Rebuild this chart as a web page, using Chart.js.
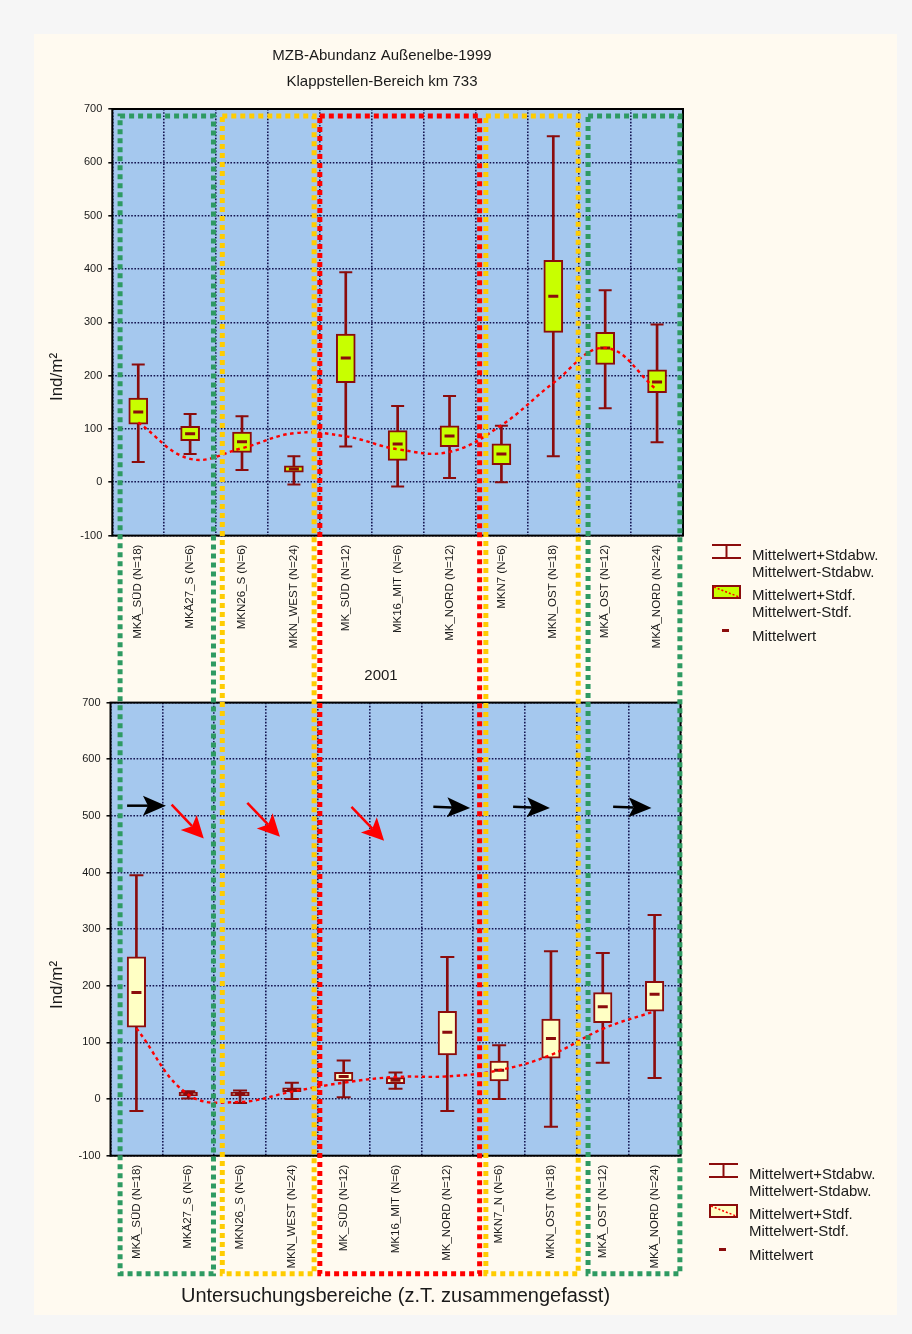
<!DOCTYPE html>
<html>
<head>
<meta charset="utf-8">
<title>MZB-Abundanz Außenelbe</title>
<script src="https://cdn.jsdelivr.net/npm/chart.js@4.4.1/dist/chart.umd.min.js"></script>
<style>
  html, body { margin: 0; padding: 0; background: #f6f6f6; }
  #page { position: relative; width: 912px; height: 1334px; overflow: hidden; }
  #panel { position: absolute; left: 34px; top: 34px; width: 863px; height: 1281px; background: #fffaf0; }
  #c1 { position: absolute; left: 0; top: 0; }
  #c2 { position: absolute; left: 0; top: 690px; }
  #ov { position: absolute; left: 0; top: 0; pointer-events: none; }
</style>
</head>
<body>
<div id="page">
  <div id="panel"></div>
  <canvas id="c1" width="912" height="690"></canvas>
  <canvas id="c2" width="912" height="644"></canvas>
  <canvas id="ov" width="912" height="1334"></canvas>
</div>
<script>
// ---- data -------------------------------------------------------------
const stations1999 = ['MKÄ_SÜD (N=18)', 'MKÄ27_S (N=6)', 'MKN26_S (N=6)', 'MKN_WEST (N=24)', 'MK_SÜD (N=12)',
  'MK16_MIT (N=6)', 'MK_NORD (N=12)', 'MKN7 (N=6)', 'MKN_OST (N=18)', 'MKÄ_OST (N=12)', 'MKÄ_NORD (N=24)'];
const stations2001 = ['MKÄ_SÜD (N=18)', 'MKÄ27_S (N=6)', 'MKN26_S (N=6)', 'MKN_WEST (N=24)', 'MK_SÜD (N=12)',
  'MK16_MIT (N=6)', 'MK_NORD (N=12)', 'MKN7_N (N=6)', 'MKN_OST (N=18)', 'MKÄ_OST (N=12)', 'MKÄ_NORD (N=24)'];

// 1999: mean, mean ± standard deviation, mean ± standard error, smoothed trend of the means
const mean1999   = [132, 91, 76, 25, 233, 72, 87, 53, 349, 252, 188];
const sdHigh1999 = [221, 128, 124, 49, 394, 143, 162, 106, 649, 360, 296];
const sdLow1999  = [38, 53, 23, -4, 67, -8, 8, 0, 49, 139, 75];
const seHigh1999 = [158, 105, 94, 31, 278, 97, 106, 72, 416, 281, 211];
const seLow1999  = [109, 78, 56, 19, 187, 41, 67, 33, 281, 221, 168];
const trend1999  = [112, 44, 64, 92, 86, 62, 57, 107, 186, 252, 173];

// 2001
const mean2001   = [188, 9, 9, 16, 40, 33, 118, 51, 107, 163, 185];
const sdHigh2001 = [395, 14, 15, 29, 68, 47, 251, 95, 261, 258, 325];
const sdLow2001  = [-21, 1, -7, 0, 3, 18, -21, 0, -49, 64, 37];
const seHigh2001 = [251, 12, 12, 20, 47, 38, 155, 67, 141, 188, 208];
const seLow2001  = [127, 6, 6, 13, 32, 27, 78, 32, 72, 135, 155];
const trend2001  = [125, 8, -5, 13, 29, 39, 40, 51, 78, 124, 155];

const valueTicks = [-100, 0, 100, 200, 300, 400, 500, 600, 700];

// groups of neighbouring stations (category index span)
const stationGroups = [
  { from: -0.35, to: 1.45, color: '#2e9a62' },
  { from: 1.62, to: 3.39, color: '#ffcc00' },
  { from: 3.50, to: 6.58, color: '#ff0000' },
  { from: 6.70, to: 8.48, color: '#ffcc00' },
  { from: 8.67, to: 10.44, color: '#2e9a62' }
];

// trend arrows of 2001 (category index, value)
const arrows2001 = [
  { x0: -0.18, y0: 518, x1: 0.57, y1: 518, color: '#000000' },
  { x0: 0.68, y0: 520, x1: 1.30, y1: 460, color: '#ff0000' },
  { x0: 2.14, y0: 523, x1: 2.77, y1: 463, color: '#ff0000' },
  { x0: 4.15, y0: 516, x1: 4.78, y1: 456, color: '#ff0000' },
  { x0: 5.73, y0: 516, x1: 6.44, y1: 514, color: '#000000' },
  { x0: 7.27, y0: 516, x1: 7.98, y1: 514, color: '#000000' },
  { x0: 9.20, y0: 516, x1: 9.94, y1: 514, color: '#000000' }
];

// ---- styling ----------------------------------------------------------
const FONT = '"Liberation Sans", Arial, Helvetica, sans-serif';
const DARK_RED = '#8b0c0c';
const PLOT_BG = '#a5c8ee';
const GRID = '#141450';
const TEXT = '#1a1a1a';

function drawKey(ctx, x, y, fill) {
  ctx.save();
  ctx.strokeStyle = DARK_RED;
  ctx.lineWidth = 2;
  // whisker symbol
  ctx.beginPath();
  ctx.moveTo(x, y); ctx.lineTo(x + 29, y);
  ctx.moveTo(x, y + 13); ctx.lineTo(x + 29, y + 13);
  ctx.moveTo(x + 14.5, y); ctx.lineTo(x + 14.5, y + 13);
  ctx.stroke();
  // box symbol
  ctx.fillStyle = fill;
  ctx.fillRect(x, y + 40, 29, 14);
  ctx.strokeRect(x + 1, y + 41, 27, 12);
  ctx.strokeStyle = '#ff0000';
  ctx.lineWidth = 1.5;
  ctx.setLineDash([2, 2]);
  ctx.beginPath(); ctx.moveTo(x + 2, y + 42); ctx.lineTo(x + 27, y + 52); ctx.stroke();
  ctx.setLineDash([]);
  // mean symbol
  ctx.strokeStyle = DARK_RED;
  ctx.lineWidth = 3;
  ctx.beginPath(); ctx.moveTo(x + 10, y + 85.5); ctx.lineTo(x + 17, y + 85.5); ctx.stroke();
  // texts
  ctx.fillStyle = TEXT;
  ctx.font = '15px ' + FONT;
  ctx.textAlign = 'left';
  ctx.textBaseline = 'middle';
  const tx = x + 40;
  ctx.fillText('Mittelwert+Stdabw.', tx, y + 10.5);
  ctx.fillText('Mittelwert-Stdabw.', tx, y + 27.5);
  ctx.fillText('Mittelwert+Stdf.', tx, y + 51);
  ctx.fillText('Mittelwert-Stdf.', tx, y + 67.5);
  ctx.fillText('Mittelwert', tx, y + 92);
  ctx.restore();
}

function drawArrow(ctx, x0, y0, x1, y1, color) {
  const ang = Math.atan2(y1 - y0, x1 - x0);
  const ux = Math.cos(ang), uy = Math.sin(ang);
  const L = color === '#000000' ? 23 : 22;
  const W = color === '#000000' ? 10 : 11;
  const N = 5;
  const bx = x1 - ux * (L - N), by = y1 - uy * (L - N);
  ctx.save();
  ctx.strokeStyle = color;
  ctx.fillStyle = color;
  ctx.lineWidth = 2.5;
  ctx.beginPath(); ctx.moveTo(x0, y0); ctx.lineTo(bx, by); ctx.stroke();
  ctx.beginPath();
  ctx.moveTo(x1, y1);
  ctx.lineTo(x1 - ux * L - uy * W, y1 - uy * L + ux * W);
  ctx.lineTo(bx, by);
  ctx.lineTo(x1 - ux * L + uy * W, y1 - uy * L - ux * W);
  ctx.closePath();
  ctx.fill();
  ctx.restore();
}

function drawRotatedText(ctx, text, x, y, font) {
  ctx.save();
  ctx.translate(x, y);
  ctx.rotate(-Math.PI / 2);
  ctx.font = font;
  ctx.fillStyle = TEXT;
  ctx.textAlign = 'center';
  ctx.textBaseline = 'middle';
  ctx.fillText(text, 0, 0);
  ctx.restore();
}

const plotFrame = {
  id: 'plotFrame',
  beforeDraw(chart) {
    const a = chart.chartArea, ctx = chart.ctx;
    ctx.save();
    ctx.fillStyle = PLOT_BG;
    ctx.fillRect(a.left, a.top, a.right - a.left, a.bottom - a.top);
    ctx.restore();
  },
  afterDraw(chart) {
    const a = chart.chartArea, ctx = chart.ctx;
    ctx.save();
    ctx.strokeStyle = '#000';
    ctx.lineWidth = 2;
    ctx.strokeRect(a.left, a.top, a.right - a.left, a.bottom - a.top);
    ctx.restore();
  }
};

function buildChart(canvasId, cfg) {
  const canvas = document.getElementById(canvasId);
  const H = canvas.height;
  return new Chart(canvas, {
    type: 'bar',
    data: {
      labels: cfg.labels,
      datasets: [
        { type: 'line', data: cfg.trend, borderColor: '#ff0000', borderWidth: 2.4, borderDash: [3.5, 3.5],
          pointRadius: 0, tension: 0.4, fill: false, order: 1 },
        { type: 'line', data: cfg.mean, showLine: false, pointStyle: 'line', pointRadius: 5,
          pointBorderWidth: 3, pointBorderColor: DARK_RED, order: 2 },
        { type: 'line', data: cfg.sdHigh, showLine: false, pointStyle: 'line', pointRadius: cfg.capRadius,
          pointBorderWidth: 2, pointBorderColor: DARK_RED, order: 3 },
        { type: 'line', data: cfg.sdLow, showLine: false, pointStyle: 'line', pointRadius: cfg.capRadius,
          pointBorderWidth: 2, pointBorderColor: DARK_RED, order: 3 },
        { type: 'bar', data: cfg.seLow.map((v, i) => [v, cfg.seHigh[i]]), backgroundColor: cfg.boxFill,
          borderColor: DARK_RED, borderWidth: 2, borderSkipped: false, barThickness: cfg.boxWidth,
          grouped: false, order: 4 },
        { type: 'bar', data: cfg.sdLow.map((v, i) => [v, cfg.sdHigh[i]]), backgroundColor: DARK_RED,
          borderWidth: 0, barThickness: 2, grouped: false, order: 5 }
      ]
    },
    options: {
      responsive: false,
      maintainAspectRatio: false,
      devicePixelRatio: 1,
      animation: false,
      events: [],
      layout: {
        padding: {
          left: 40,
          right: 912 - cfg.area.right,
          top: cfg.area.top,
          bottom: H - cfg.area.bottom - cfg.xAxisHeight
        }
      },
      plugins: { legend: { display: false }, tooltip: { enabled: false }, title: { display: false } },
      scales: {
        x: {
          type: 'category',
          offset: true,
          grid: { offset: true, color: GRID, lineWidth: 1.6, drawTicks: false },
          border: { display: false, dash: [1.6, 1.6] },
          ticks: {
            autoSkip: false, minRotation: 90, maxRotation: 90, padding: 9,
            color: TEXT, font: { family: FONT, size: 11.5 }
          },
          title: cfg.xTitle ? {
            display: true, text: cfg.xTitle, color: TEXT,
            font: { family: FONT, size: 20 }, padding: { top: 0, bottom: 4 }
          } : { display: false },
          afterFit(s) { s.height = cfg.xAxisHeight; }
        },
        y: {
          min: -100, max: 700,
          afterBuildTicks(s) { s.ticks = valueTicks.map(v => ({ value: v })); },
          grid: { color: GRID, lineWidth: 1.6, tickLength: 4, tickColor: '#000', tickWidth: 1.5, tickBorderDash: [] },
          border: { display: false, dash: [1.6, 1.6] },
          ticks: { padding: 6, color: TEXT, font: { family: FONT, size: 11 } },
          afterFit(s) { s.width = cfg.area.left - 40; }
        }
      }
    },
    plugins: [plotFrame, { id: 'decor', afterDraw: chart => cfg.decor(chart.ctx, chart) }]
  });
}

const chart1999 = buildChart('c1', {
  labels: stations1999,
  mean: mean1999, sdHigh: sdHigh1999, sdLow: sdLow1999,
  seHigh: seHigh1999, seLow: seLow1999, trend: trend1999,
  boxFill: '#c8ff00', boxWidth: 19, capRadius: 6.5,
  area: { left: 112.3, right: 683, top: 109, bottom: 535.6 },
  xAxisHeight: 130,
  decor(ctx) {
    ctx.save();
    ctx.fillStyle = TEXT;
    ctx.font = '15px ' + FONT;
    ctx.textAlign = 'center';
    ctx.textBaseline = 'middle';
    ctx.fillText('MZB-Abundanz Außenelbe-1999', 382, 56);
    ctx.fillText('Klappstellen-Bereich km 733', 382, 82);
    ctx.fillText('2001', 381, 676);
    ctx.restore();
    drawRotatedText(ctx, 'Ind/m²', 57, 377, '17px ' + FONT);
    drawKey(ctx, 712, 545, '#c8ff00');
  }
});

const chart2001 = buildChart('c2', {
  labels: stations2001,
  mean: mean2001, sdHigh: sdHigh2001, sdLow: sdLow2001,
  seHigh: seHigh2001, seLow: seLow2001, trend: trend2001,
  boxFill: '#ffffc4', boxWidth: 18.5, capRadius: 7,
  area: { left: 110.5, right: 680.5, top: 12.3, bottom: 465.7 },
  xAxisHeight: 157,
  xTitle: 'Untersuchungsbereiche (z.T. zusammengefasst)',
  decor(ctx, chart) {
    const xs = chart.scales.x, ys = chart.scales.y;
    arrows2001.forEach(a => drawArrow(ctx,
      xs.getPixelForValue(a.x0), ys.getPixelForValue(a.y0),
      xs.getPixelForValue(a.x1), ys.getPixelForValue(a.y1), a.color));
    drawRotatedText(ctx, 'Ind/m²', 57, 295, '17px ' + FONT);
    drawKey(ctx, 709, 1164 - 690, '#ffffc4');
  }
});

// dotted frames around the station groups, spanning both years
(function drawGroups() {
  const ctx = document.getElementById('ov').getContext('2d');
  const xs = chart1999.scales.x;
  const top = chart1999.chartArea.top + 7;
  const bottom = 690 + chart2001.chartArea.bottom + 118;
  ctx.lineWidth = 5;
  ctx.setLineDash([5, 4]);
  stationGroups.forEach(g => {
    const l = xs.getPixelForValue(g.from), r = xs.getPixelForValue(g.to);
    ctx.strokeStyle = g.color;
    ctx.strokeRect(l, top, r - l, bottom - top);
  });
})();
</script>
</body>
</html>
